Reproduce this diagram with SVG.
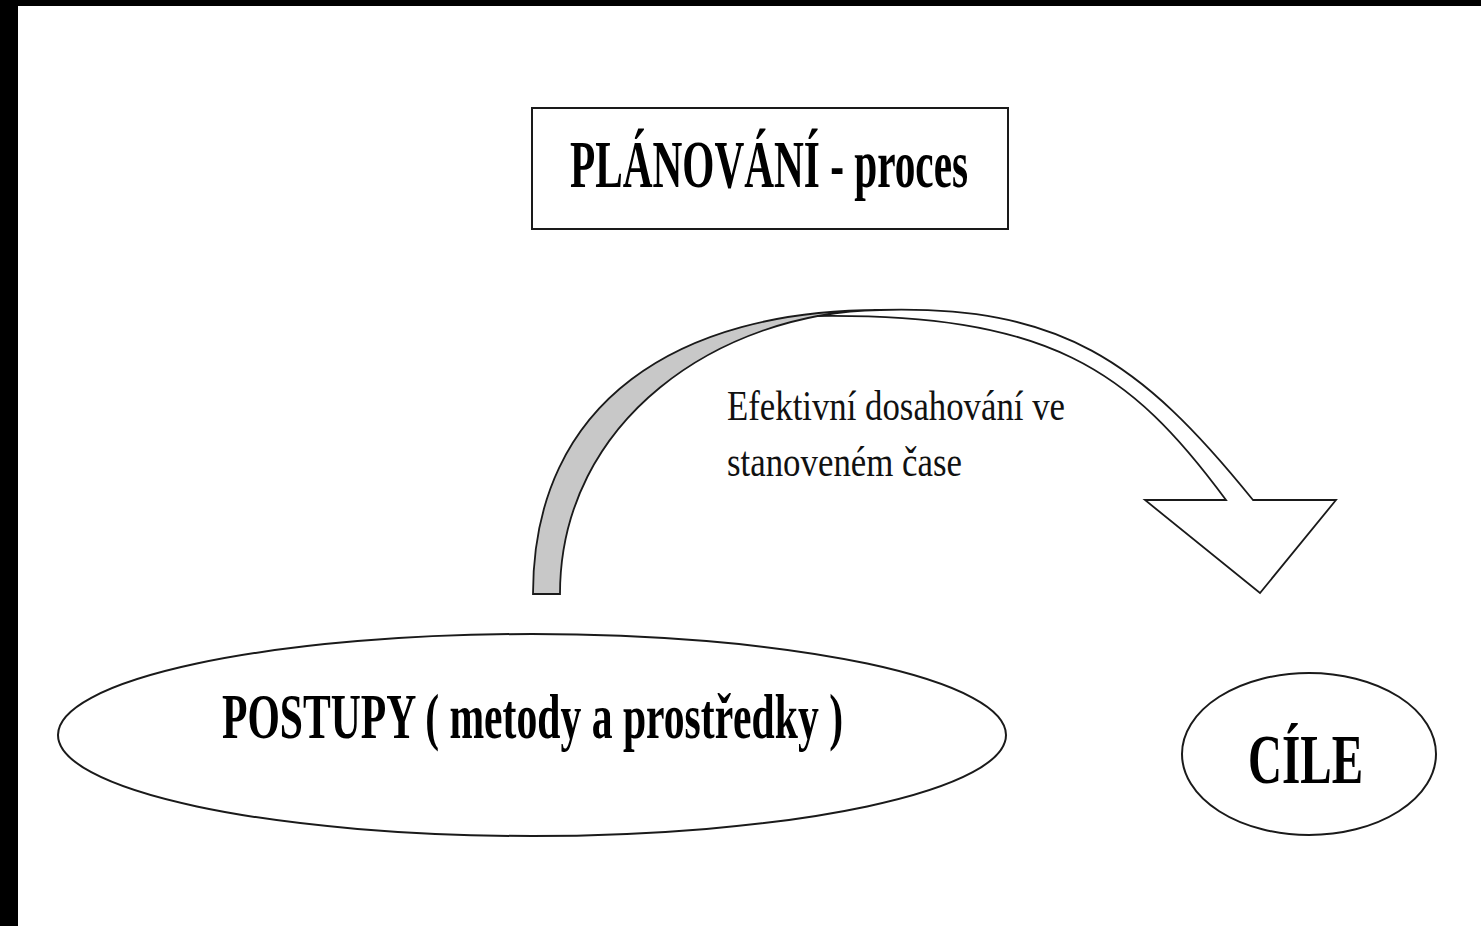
<svg xmlns="http://www.w3.org/2000/svg" width="1481" height="926" viewBox="0 0 1481 926">
<style>
.shape{fill:#fff;stroke:#1a1a1a;stroke-width:2}
.arrow{stroke:#1a1a1a;stroke-width:1.8;stroke-linejoin:miter}
.bold{font-family:"Liberation Serif","Times New Roman",serif;font-weight:bold;fill:#000}
.reg{font-family:"Liberation Serif","Times New Roman",serif;fill:#111}
</style>
<rect x="0" y="0" width="1481" height="926" fill="#fff"/>
<rect x="0" y="0" width="18" height="926" fill="#000"/>
<rect x="0" y="0" width="1481" height="6" fill="#000"/>

<g id="node-planovani">
<rect class="shape" x="532" y="108" width="476" height="121"/>
<text class="bold" x="570" y="187" font-size="67" textLength="398" lengthAdjust="spacingAndGlyphs">PLÁNOVÁNÍ - proces</text>
</g>

<g id="connectors">
<path class="arrow" fill="#fff" d="M880,310 C1060,305 1140,360 1253,500 L1336,500 L1260,593 L1145,500 L1226,500 C1130,370 1050,312 810,316"/>
<path class="arrow" fill="#c8c8c8" d="M533,594 C533,400 680,310 880,310 C720,312 560,420 560,594 Z"/>
<text class="reg" x="727" y="420" font-size="43" textLength="338" lengthAdjust="spacingAndGlyphs">Efektivní dosahování ve</text>
<text class="reg" x="727" y="476" font-size="43" textLength="235" lengthAdjust="spacingAndGlyphs">stanoveném čase</text>
</g>

<g id="node-postupy">
<ellipse class="shape" cx="532" cy="735" rx="474" ry="101"/>
<text class="bold" x="222" y="738" font-size="64" textLength="621" lengthAdjust="spacingAndGlyphs">POSTUPY ( metody a prostředky )</text>
</g>

<g id="node-cile">
<ellipse class="shape" cx="1309" cy="754" rx="127" ry="81"/>
<text class="bold" x="1248" y="783" font-size="69" textLength="115" lengthAdjust="spacingAndGlyphs">CÍLE</text>
</g>
</svg>
